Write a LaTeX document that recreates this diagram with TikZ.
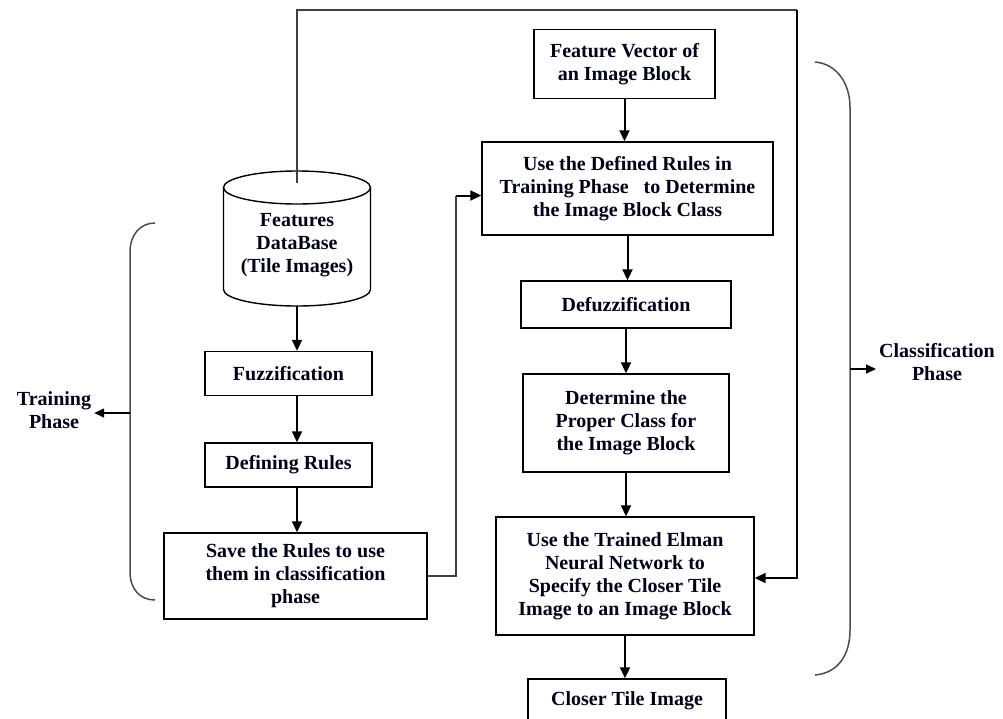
\documentclass[tikz,border=0pt]{standalone}
\usepackage{fontspec}
\setmainfont{Liberation Serif}
\usetikzlibrary{arrows.meta,calc}
\begin{document}
\begin{tikzpicture}[x=1pt,y=-1pt,
  txt/.style={font=\bfseries\fontsize{20}{23}\selectfont, align=center, text=black!90!blue},
  box/.style={txt, draw, line width=1.4pt, inner sep=0pt},
  arr/.style={line width=2pt, -{Triangle[length=11pt,width=10pt]}},
  thin/.style={line width=1.4pt, draw=black!75},
  brk/.style={line width=1.5pt, draw=black!70}]
\useasboundingbox (0,0) rectangle (1003,718);
% cylinder
\node (db) at (297,238.5) [minimum width=147pt, minimum height=135pt, inner sep=0pt] {};
\draw[line width=1.4pt] (223.5,187.5) -- (223.5,289.5) arc[start angle=180,end angle=360,x radius=73.5pt,y radius=16.5pt] -- (370.5,187.5);
\draw[line width=1.4pt] (297,187.5) ellipse[x radius=73.5pt,y radius=16.5pt];
\node[txt] (dbtext) at (297,245) {Features\\DataBase\\(Tile Images)};
% left column
\node[box, minimum width=167pt, minimum height=44pt] (fuzz) at (288.5,373.5) {Fuzzification};
\node[box, minimum width=167pt, minimum height=44pt] (defr) at (288.5,465) {Defining Rules};
\node[box, minimum width=263pt, minimum height=86pt] (save) at (295.5,576) {Save the Rules to use\\them in classification\\phase};
% right column
\node[box, minimum width=181pt, minimum height=69pt] (feat) at (624.5,64) {Feature Vector of\\an Image Block};
\node[box, minimum width=291pt, minimum height=93pt] (usedef) at (627.5,188.5) {Use the Defined Rules in\\Training Phase\ \ \ to Determine\\the Image Block Class};
\node[box, minimum width=210pt, minimum height=47pt] (defuzz) at (626,304.5) {Defuzzification};
\node[box, minimum width=206pt, minimum height=98pt] (det) at (626,423) {Determine the\\Proper Class for\\the Image Block};
\node[box, minimum width=258pt, minimum height=118pt] (elman) at (625,576) {Use the Trained Elman\\Neural Network to\\Specify the Closer Tile\\Image to an Image Block};
\node[box, minimum width=198pt, minimum height=43pt] (closer) at (627,700.5) {Closer Tile Image};
% phase labels
\node[txt, inner sep=3pt] (tp) at (54,410) {Training\\Phase};
\node[txt, inner sep=3pt] (cp) at (937,362) {Classification\\Phase};
% connectors
\draw[arr] (db.south) -- (db.south |- fuzz.north);
\draw[arr] (db.south |- fuzz.south) -- (db.south |- defr.north);
\draw[arr] (db.south |- defr.south) -- (db.south |- save.north);
\coordinate (c2) at (456,0);
\coordinate (ud) at ($(usedef.west)+(0,7)$);
\draw[thin] (save.east) -- (save.east -| c2) -- (c2 |- ud);
\draw[arr] (c2 |- ud) -- (ud);
\draw[arr] (feat.south) -- (feat.south |- usedef.north);
\draw[arr] (usedef.south) -- (usedef.south |- defuzz.north);
\draw[arr] (defuzz.south) -- (defuzz.south |- det.north);
\draw[arr] (det.south) -- (det.south |- elman.north);
\draw[arr] (elman.south) -- (elman.south |- closer.north);
\coordinate (dbtop) at (297,183);
\coordinate (c1) at (797,10);
\draw[thin] (dbtop) |- (c1);
\draw[arr] (c1) |- ($(elman.east)+(0,2)$);
% brackets
\draw[brk] (155,223) .. controls (140,223) and (130,235) .. (130,252) -- (130,572) .. controls (130,589) and (140,600) .. (155,600);
\draw[brk] (815,62) .. controls (838,64) and (850,85) .. (850,107) -- (850,630) .. controls (850,655) and (838,673) .. (815,675);
\coordinate (lb) at (130,413);
\coordinate (rb) at (850,369);
\draw[arr, line width=1.6pt, -{Triangle[length=10pt,width=9pt]}] (lb) -- (lb -| tp.east);
\draw[arr, line width=1.6pt, -{Triangle[length=10pt,width=9pt]}] (rb) -- (rb -| cp.west);
\end{tikzpicture}
\end{document}
